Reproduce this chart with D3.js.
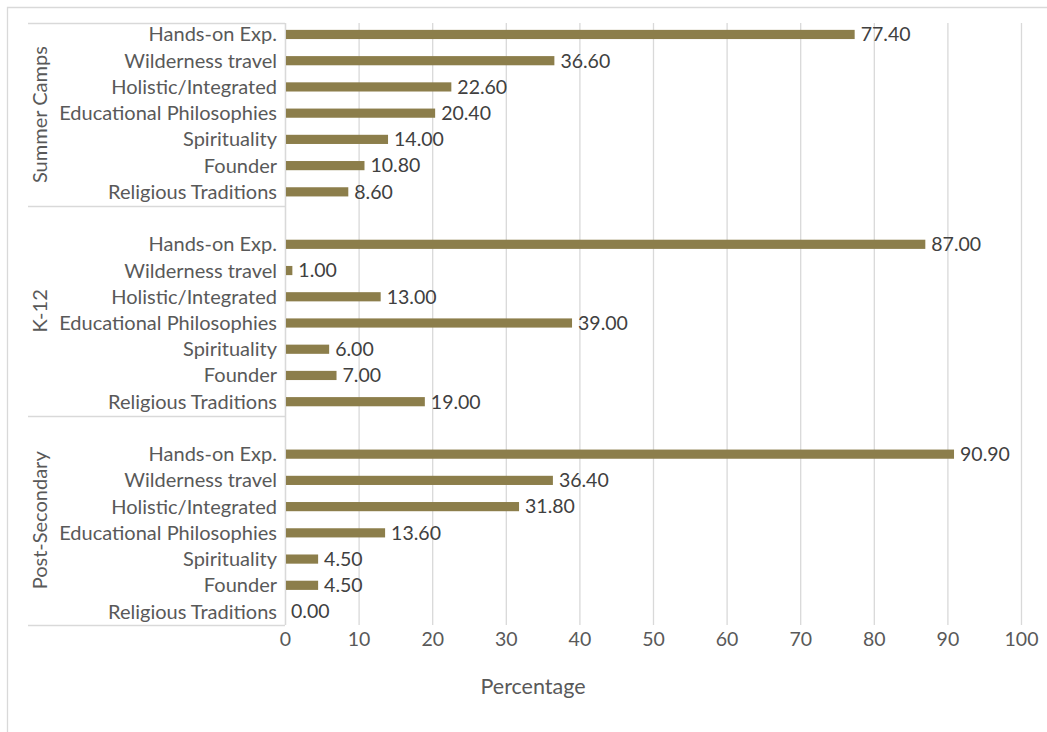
<!DOCTYPE html>
<html>
<head>
<meta charset="utf-8">
<script src="https://cdn.jsdelivr.net/npm/d3@7"></script>
<style>
  html, body { margin: 0; padding: 0; background: #fff; }
  svg { display: block; font-family: Lato, "Open Sans", sans-serif; }
</style>
</head>
<body>
<svg id="chart" width="1047" height="732"></svg>
<script>
// Groups and categories (top to bottom within each group)
const groups = ["Summer Camps", "K-12", "Post-Secondary"];
const categories = ["Hands-on Exp.", "Wilderness travel", "Holistic/Integrated",
  "Educational Philosophies", "Spirituality", "Founder", "Religious Traditions"];

// Percentages per group, in category order
const summerCamps   = [77.4, 36.6, 22.6, 20.4, 14.0, 10.8, 8.6];
const k12           = [87.0, 1.0, 13.0, 39.0, 6.0, 7.0, 19.0];
const postSecondary = [90.9, 36.4, 31.8, 13.6, 4.5, 4.5, 0.0];
const seriesValues  = [summerCamps, k12, postSecondary];

const xTicks = [0, 10, 20, 30, 40, 50, 60, 70, 80, 90, 100];
const axisTitle = "Percentage";

const svg = d3.select("#chart");
const plot = { left: 285, right: 1021, top: 23, bottom: 625 };
const groupLeft = 28;

// Slots: each group's rows, with one empty slot between groups
const slots = [];
groups.forEach((g, gi) => {
  categories.forEach((c, ci) => slots.push({ key: g + "|" + c, group: g, cat: c, value: seriesValues[gi][ci] }));
  if (gi < groups.length - 1) slots.push({ key: "gap" + gi, gap: true });
});

const x = d3.scaleLinear().domain([0, 100]).range([plot.left, plot.right]);
const y = d3.scaleBand().domain(slots.map(s => s.key)).range([plot.top, plot.bottom]).paddingInner(0.65).paddingOuter(0.3);
const yOuter = d3.scaleBand().domain(slots.map(s => s.key)).range([plot.top, plot.bottom]);

const grey = "#d9d9d9";
const textCol = "#595959";

// Outer chart frame (top and left edges)
svg.append("path").attr("d", "M7.5,732 V7.5 H1047").attr("fill", "none").attr("stroke", grey).attr("stroke-width", 1.3);

// Vertical gridlines via axis
const gx = svg.append("g").attr("transform", `translate(0,${plot.bottom})`)
  .call(d3.axisBottom(x).tickValues(xTicks).tickSize(-(plot.bottom - plot.top)).tickPadding(7));
gx.select(".domain").remove();
gx.selectAll(".tick line").attr("stroke", grey).attr("stroke-width", 1.3);
gx.selectAll(".tick text").attr("fill", textCol).style("font-size", "19.5px").style("font-family", "Lato, sans-serif");

// Group separators in the category axis region
const sepYs = [plot.top];
slots.forEach(s => { if (s.gap) sepYs.push(yOuter(s.key)); });
sepYs.push(plot.bottom);
svg.append("g").selectAll("line").data(sepYs).join("line")
  .attr("x1", groupLeft).attr("x2", plot.left)
  .attr("y1", d => Math.round(d) + 0.5).attr("y2", d => Math.round(d) + 0.5)
  .attr("stroke", grey).attr("stroke-width", 1.3);

// Category axis line
svg.append("line").attr("x1", plot.left + 0.5).attr("x2", plot.left + 0.5)
  .attr("y1", plot.top).attr("y2", plot.bottom).attr("stroke", grey).attr("stroke-width", 1.3);

const rows = slots.filter(s => !s.gap);
const barColor = "#8c7e4b";

// Bars
svg.append("g").selectAll("rect").data(rows).join("rect")
  .attr("x", x(0) + 1)
  .attr("y", d => y(d.key) - 1)
  .attr("width", d => Math.max(0, x(d.value) - x(0) - 1))
  .attr("height", y.bandwidth())
  .attr("fill", barColor);

// Value labels
svg.append("g").selectAll("text").data(rows).join("text")
  .attr("x", d => x(d.value) + 6)
  .attr("y", d => y(d.key) - 1 + y.bandwidth() / 2)
  .attr("dy", "0.35em")
  .attr("fill", "#404040")
  .style("font-size", "19.5px")
  .text(d => d.value.toFixed(2));

// Category labels
svg.append("g").selectAll("text").data(rows).join("text")
  .attr("x", plot.left - 8)
  .attr("y", d => y(d.key) - 1 + y.bandwidth() / 2)
  .attr("dy", "0.35em")
  .attr("text-anchor", "end")
  .attr("fill", textCol)
  .style("font-size", "20px")
  .text(d => d.cat);

// Group labels (rotated)
svg.append("g").selectAll("text").data(groups).join("text")
  .attr("transform", (g, i) => {
    const top = sepYs[i], bottom = sepYs[i + 1];
    return `translate(40,${(top + bottom) / 2}) rotate(-90)`;
  })
  .attr("text-anchor", "middle")
  .attr("dy", "0.35em")
  .attr("fill", textCol)
  .style("font-size", "20px")
  .text(d => d);

// Axis title
svg.append("text").attr("x", 533).attr("y", 686).attr("dy", "0.35em")
  .attr("text-anchor", "middle").attr("fill", textCol)
  .style("font-size", "21.5px").text(axisTitle);
</script>
</body>
</html>
